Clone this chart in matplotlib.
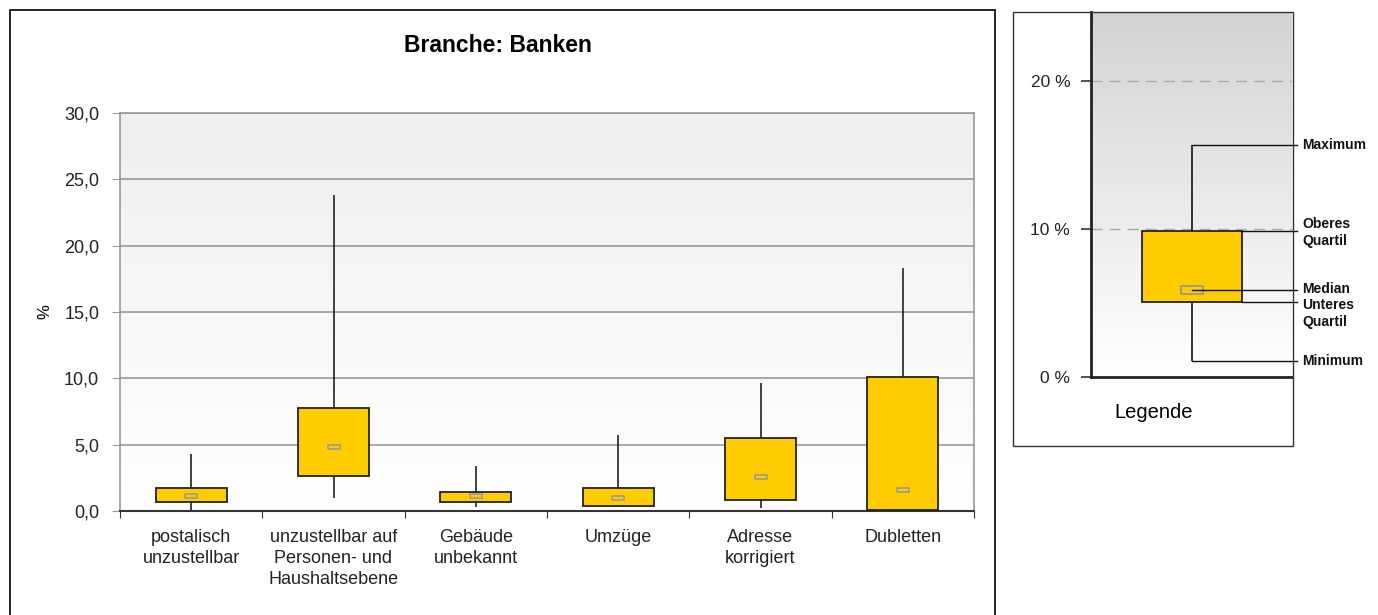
import matplotlib.pyplot as plt
from matplotlib.patches import Rectangle
from matplotlib.colors import LinearSegmentedColormap
import numpy as np

plt.rcParams['font.family'] = ['Liberation Sans', 'DejaVu Sans']

# data (in %)
categories = ["postalisch\nunzustellbar", "unzustellbar auf\nPersonen- und\nHaushaltsebene",
              "Gebäude\nunbekannt", "Umzüge", "Adresse\nkorrigiert", "Dubletten"]
minimum = [0.0, 1.0, 0.3, 0.3, 0.2, 0.05]
q1 = [0.68, 2.64, 0.68, 0.35, 0.83, 0.08]
median = [1.1, 4.82, 1.1, 1.0, 2.56, 1.58]
q3 = [1.73, 7.76, 1.43, 1.75, 5.5, 10.1]
maximum = [4.3, 23.8, 3.4, 5.7, 9.65, 18.3]
yticks = [0, 5, 10, 15, 20, 25, 30]

# legend example box
leg_min, leg_q1, leg_med, leg_q3, leg_max = 1.1, 5.1, 5.9, 9.9, 15.7
leg_labels = ["Maximum", "Oberes\nQuartil", "Median", "Unteres\nQuartil", "Minimum"]
leg_label_y = [15.7, 9.76, 5.95, 4.32, 1.08]

YELLOW = "#FFCC00"
W, H = 1378, 615
fig = plt.figure(figsize=(W / 100, H / 100), dpi=100)

def fbox(x0, y0, x1, y1):
    return [x0 / W, 1 - y1 / H, (x1 - x0) / W, (y1 - y0) / H]

# outer frames
fig.patches.append(Rectangle((10 / W, -0.02), 985 / W, 1.02 - 10 / H, transform=fig.transFigure,
                             fill=False, ec="black", lw=1.2))
fig.patches.append(Rectangle((1013 / W, 1 - 446 / H), 280 / W, 434 / H, transform=fig.transFigure,
                             fill=False, ec="#333333", lw=1.0))

grad = np.linspace(0, 1, 256).reshape(-1, 1)

# ---- main chart
ax = fig.add_axes(fbox(120, 113, 974, 511))
ax.imshow(grad, extent=[0, 1, 0, 1], transform=ax.transAxes,
          cmap=LinearSegmentedColormap.from_list("g", ["white", "#efefef"]),
          aspect="auto", origin="lower", zorder=0)
x = np.arange(len(categories))
for yv in yticks[1:]:
    ax.axhline(yv, color="#999999", lw=1.2, zorder=1)
ax.vlines(x, minimum, maximum, color="#222222", lw=1.2, zorder=2)
ax.bar(x, np.array(q3) - np.array(q1), bottom=q1, width=0.5, color=YELLOW,
       edgecolor="#222222", lw=1.3, zorder=3)
med_marker = [(-3, -1), (3, -1), (3, 1), (-3, 1), (-3, -1)]
ax.plot(x, median, ls="none", marker=med_marker, ms=9, mfc=YELLOW, mec="#999999", mew=1.2, zorder=4)

ax.set_xlim(-0.5, len(categories) - 0.5)
ax.set_ylim(0, 30)
ax.set_yticks(yticks)
ax.set_yticklabels([f"{v:.1f}".replace(".", ",") for v in yticks], fontsize=13, color="#222222")
ax.set_xticks(np.arange(-0.5, len(categories)), labels=[""] * (len(categories) + 1))
ax.set_xticks(x, labels=categories, minor=True)
ax.tick_params(axis="x", which="minor", length=0, pad=13, labelsize=13, labelcolor="#222222")
ax.tick_params(axis="x", which="major", length=5, color="#333333")
ax.tick_params(axis="y", length=6, color="#999999", pad=9)
for s in ["left", "right", "top"]:
    ax.spines[s].set_color("#999999")
    ax.spines[s].set_linewidth(1.2)
ax.spines["bottom"].set_color("#333333")
ax.spines["bottom"].set_linewidth(1.5)
for lbl in ax.get_xticklabels(minor=True):
    lbl.set_verticalalignment("top")
    lbl.set_linespacing(1.3)
fig.text(45 / W, 1 - 312 / H, "%", rotation=90, ha="center", va="center", fontsize=12)
fig.text(498 / W, 1 - 45 / H, "Branche: Banken", ha="center", va="center", fontsize=16.5, fontweight="bold")

# ---- legend chart
lx = fig.add_axes(fbox(1091, 12, 1292, 377))
lx.imshow(grad, extent=[0, 1, 0, 1], transform=lx.transAxes,
          cmap=LinearSegmentedColormap.from_list("g2", ["white", "#d3d3d3"]),
          aspect="auto", origin="lower", zorder=0)
lx.set_xlim(0, 1)
lx.set_ylim(0, 24.7)
for yv in [10, 20]:
    lx.axhline(yv, color="#aaaaaa", lw=1.0, ls=(0, (8, 5)), zorder=1)
bc, bl, br = 0.502, 0.254, 0.751
lx.vlines(bc, leg_min, leg_max, color="#111111", lw=1.2, zorder=2)
lx.bar(bc, leg_q3 - leg_q1, bottom=leg_q1, width=br - bl, color=YELLOW, edgecolor="#222222", lw=1.3, zorder=3)
lx.plot([bc], [leg_med], ls="none", marker=med_marker, ms=16, mfc=YELLOW, mec="#999999", mew=1.3, zorder=4)
xe = 1.025
for y0, x0 in [(leg_max, bc), (leg_q3, br), (leg_med, bc), (leg_q1, br), (leg_min, bc)]:
    lx.plot([x0, xe], [y0, y0], color="#111111", lw=1.0, clip_on=False, zorder=5)
for lab, yv in zip(leg_labels, leg_label_y):
    lx.text(1.05, yv, lab, ha="left", va="center", fontsize=10, fontweight="bold",
            linespacing=1.25, color="#111111")
lx.set_yticks([0, 10, 20])
lx.set_yticklabels(["0 %", "10 %", "20 %"], fontsize=12.5, color="#222222")
lx.set_xticks([])
lx.tick_params(axis="y", length=7, width=1.2, color="#333333", pad=8)
lx.spines["left"].set_linewidth(2)
lx.spines["left"].set_color("#222222")
lx.spines["bottom"].set_linewidth(2)
lx.spines["bottom"].set_color("#222222")
lx.spines["top"].set_visible(False)
lx.spines["right"].set_visible(False)
fig.text(1154 / W, 1 - 413 / H, "Legende", ha="center", va="center", fontsize=14.5)

fig.savefig("out.png", dpi=100)
